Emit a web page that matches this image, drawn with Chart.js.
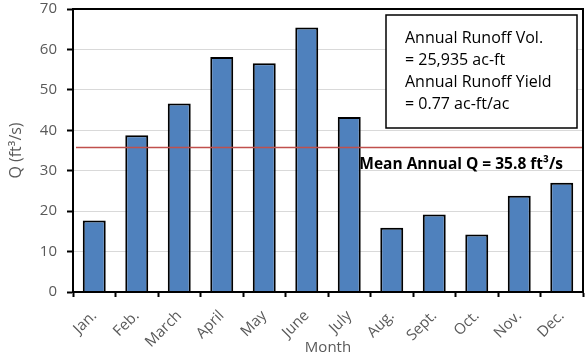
<!DOCTYPE html>
<html>
<head>
<meta charset="utf-8">
<script src="https://cdn.jsdelivr.net/npm/chart.js@4/dist/chart.umd.min.js"></script>
<style>
  html, body { margin: 0; padding: 0; background: #fff; }
  #wrap { width: 587px; height: 360px; position: relative; }
</style>
</head>
<body>
<div id="wrap"><canvas id="c"></canvas></div>
<script>
// Monthly mean discharge, ft³/s
const months = ['Jan.', 'Feb.', 'March', 'April', 'May', 'June', 'July', 'Aug.', 'Sept.', 'Oct.', 'Nov.', 'Dec.'];
const flowQ = [17.7, 38.8, 46.6, 58.1, 56.6, 65.4, 43.3, 15.9, 19.2, 14.2, 23.8, 27.0];
const meanAnnualQ = 35.8;
const yTicks = [0, 10, 20, 30, 40, 50, 60, 70];
const infoLines = ['Annual Runoff Vol.', '= 25,935 ac-ft', 'Annual Runoff Yield', '= 0.77 ac-ft/ac'];
const meanLabel = 'Mean Annual Q = 35.8 ft³/s';

const FONT = '"Open Sans", sans-serif';
const GREY = '#595959';

const overlay = {
  id: 'overlay',
  afterDatasetsDraw(chart) {
    const { ctx, chartArea: a, scales: { y } } = chart;
    ctx.save();
    // mean annual discharge line
    const my = Math.round(y.getPixelForValue(meanAnnualQ)) + 0.5;
    ctx.strokeStyle = '#C0504D';
    ctx.lineWidth = 1.5;
    ctx.beginPath();
    ctx.moveTo(a.left + 3, my);
    ctx.lineTo(a.right, my);
    ctx.stroke();

    ctx.fillStyle = '#000';
    ctx.font = 'bold 15.5px ' + FONT;
    ctx.textAlign = 'right';
    ctx.textBaseline = 'middle';
    ctx.fillText(meanLabel, a.right - 20, my + 17);

    // plot frame
    ctx.strokeStyle = '#000';
    ctx.lineWidth = 2;
    ctx.strokeRect(a.left, a.top, a.right - a.left, a.bottom - a.top);

    // runoff summary box
    const bx = a.right - 197, by = a.top + 6, bw = 191, bh = 113;
    ctx.fillStyle = '#fff';
    ctx.fillRect(bx, by, bw, bh);
    ctx.lineWidth = 1.5;
    ctx.strokeRect(bx, by, bw, bh);
    ctx.fillStyle = '#000';
    ctx.font = '16px ' + FONT;
    ctx.textAlign = 'left';
    infoLines.forEach((t, i) => ctx.fillText(t, bx + 19, by + 23 + i * 22));
    ctx.restore();
  }
};

new Chart(document.getElementById('c'), {
  type: 'bar',
  data: {
    labels: months,
    datasets: [{
      data: flowQ,
      backgroundColor: '#4F81BD',
      borderColor: '#000',
      borderWidth: 2,
      barPercentage: 0.6,
      categoryPercentage: 0.9
    }]
  },
  options: {
    responsive: true,
    maintainAspectRatio: false,
    animation: false,
    layout: { padding: { left: 7, right: 4, top: 0, bottom: 0 } },
    plugins: { legend: { display: false }, tooltip: { enabled: false } },
    scales: {
      x: {
        grid: { display: true, drawOnChartArea: false, drawTicks: true, tickLength: 5, tickColor: '#000', tickWidth: 2, offset: true },
        border: { display: true, color: '#000', width: 2 },
        ticks: { color: GREY, font: { family: FONT, size: 15 }, minRotation: 45, maxRotation: 45, padding: 10, autoSkip: false },
        title: { display: true, text: 'Month', color: GREY, font: { family: FONT, size: 15 }, padding: { top: 0, bottom: 3 } },
        afterFit(s) { s.height = 68; s.paddingLeft = 0; s.paddingRight = 0; }
      },
      y: {
        min: 0, max: 70,
        afterBuildTicks(s) { s.ticks = yTicks.map(v => ({ value: v })); },
        grid: { color: '#d9d9d9', lineWidth: 1, tickLength: 6, tickColor: '#000', tickWidth: 2 },
        border: { display: true, color: '#000', width: 2 },
        ticks: { color: GREY, font: { family: FONT, size: 15 }, padding: 10 },
        title: { display: true, text: 'Q (ft³/s)', color: GREY, font: { family: FONT, size: 16 }, padding: { top: 0, bottom: 4 } },
        afterFit(s) { s.width = 66; s.paddingTop = 9; s.paddingBottom = 0; }
      }
    }
  },
  plugins: [overlay]
});
</script>
</body>
</html>
